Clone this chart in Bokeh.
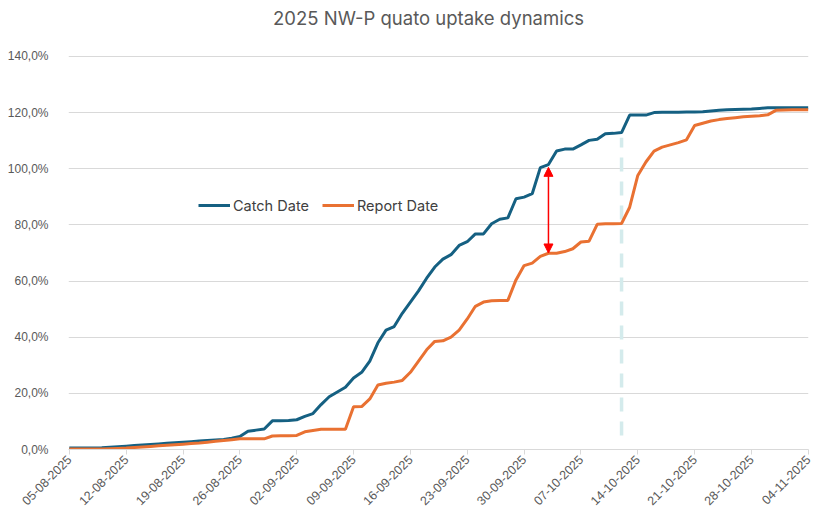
import pandas as pd
from bokeh.plotting import figure
from bokeh.models import (Range1d, FixedTicker, CustomJSTickFormatter, DatetimeTickFormatter,
                          Legend, LegendItem, Arrow, NormalHead, ColumnDataSource, Label)
from bokeh.embed import file_html
from bokeh.resources import INLINE

# ---------------- data ----------------
start_date = "2025-08-05"
end_date = "2025-11-04"
dates = pd.date_range(start_date, end_date, freq="D")
tick_dates = pd.date_range(start_date, end_date, freq="7D")

catch_date = [
    0.5, 0.5, 0.5, 0.5, 0.6, 0.8, 1.0, 1.2, 1.4, 1.6,
    1.8, 2.0, 2.2, 2.4, 2.6, 2.8, 3.0, 3.2, 3.4, 3.6,
    4.0, 4.6, 6.5, 6.9, 7.3, 10.2, 10.2, 10.3, 10.6, 11.8,
    12.8, 16.0, 18.8, 20.5, 22.2, 25.5, 27.5, 31.5, 38.0, 42.5,
    43.8, 48.5, 52.5, 56.5, 61.0, 65.0, 67.8, 69.4, 72.7, 74.0,
    76.8, 76.8, 80.4, 82.0, 82.5, 89.3, 89.9, 91.1, 100.4, 101.5,
    106.3, 107.0, 107.0, 108.5, 110.1, 110.5, 112.5, 112.6, 112.9, 119.1,
    119.1, 119.1, 120.0, 120.1, 120.1, 120.1, 120.2, 120.2, 120.3, 120.6,
    120.8, 121.0, 121.1, 121.2, 121.3, 121.5, 121.7, 121.7, 121.7, 121.7,
    121.7, 121.7,
]
report_date = [
    0.2, 0.2, 0.2, 0.2, 0.2, 0.3, 0.4, 0.5, 0.7, 0.9,
    1.1, 1.3, 1.5, 1.7, 1.9, 2.1, 2.3, 2.6, 2.9, 3.2,
    3.5, 3.8, 3.8, 3.8, 3.8, 4.8, 4.9, 4.9, 5.0, 6.3,
    6.8, 7.2, 7.2, 7.2, 7.2, 15.2, 15.3, 18.0, 23.0, 23.6,
    24.0, 24.6, 27.5, 31.5, 35.5, 38.5, 38.7, 40.0, 42.5, 46.5,
    51.0, 52.5, 53.0, 53.1, 53.1, 60.4, 65.5, 66.4, 68.8, 69.9,
    69.9, 70.5, 71.5, 73.9, 74.2, 80.2, 80.4, 80.4, 80.5, 86.3,
    97.6, 102.4, 106.3, 107.7, 108.5, 109.3, 110.3, 115.4, 116.2, 117.0,
    117.5, 117.9, 118.2, 118.5, 118.7, 118.9, 119.2, 120.8, 120.9, 121.0,
    121.0, 121.0,
]
y_ticks = [0, 20, 40, 60, 80, 100, 120, 140]

marker_date = "2025-10-12"
marker_range = [5.0, 111.0]
gap_date = "2025-10-03"
gap_range = [70.0, 100.5]

title_text = "2025 NW-P quato uptake dynamics"
series_names = ["Catch Date", "Report Date"]

# ---------------- figure ----------------
FONT = "Inter"
TICK_FONT = "Liberation Sans"
day = pd.Timedelta(days=1)
x0 = dates[0] - 0.1 * day
x1 = dates[-1] + 0.02 * day
# headroom above the 140 % gridline holds the title
p = figure(width=819, height=515, x_axis_type="datetime",
           output_backend="svg", toolbar_location=None,
           x_range=Range1d(x0, x1), y_range=Range1d(0, 158.5),
           min_border_left=68, min_border_right=11,
           min_border_top=4, min_border_bottom=66)
p.outline_line_color = None
p.background_fill_color = "white"

p.add_layout(Label(x=x0 + (x1 - x0) / 2, y=140, x_offset=-10, y_offset=38,
                   text=title_text, text_align="center", text_baseline="middle",
                   text_font=FONT, text_font_size="18.5px", text_color="#595959"))

src = ColumnDataSource(dict(x=dates, catch=catch_date, report=report_date))

# dashed marker line
p.segment(x0=[pd.Timestamp(marker_date)], x1=[pd.Timestamp(marker_date)],
          y0=[marker_range[0]], y1=[marker_range[1]],
          line_color="#D4EBEC", line_width=3.5, line_dash="14 10")

r_catch = p.line("x", "catch", source=src, line_color="#156082", line_width=3)
r_report = p.line("x", "report", source=src, line_color="#E97132", line_width=3)

# double arrow
head = dict(size=9, fill_color="#FF0000", line_color="#FF0000")
p.add_layout(Arrow(start=NormalHead(**head), end=NormalHead(**head),
                   x_start=pd.Timestamp(gap_date), x_end=pd.Timestamp(gap_date),
                   y_start=gap_range[0], y_end=gap_range[1],
                   line_color="#FF0000", line_width=1.5))

# axes
p.yaxis.ticker = FixedTicker(ticks=y_ticks)
p.yaxis.formatter = CustomJSTickFormatter(code="return tick.toFixed(1).replace('.', ',') + '%';")
p.yaxis.axis_line_color = None
p.yaxis.major_tick_line_color = None
p.yaxis.minor_tick_line_color = None
p.yaxis.major_label_text_font = TICK_FONT
p.yaxis.major_label_text_font_size = "12px"
p.yaxis.major_label_text_color = "#595959"
p.yaxis.major_label_standoff = 14

p.xaxis.ticker = FixedTicker(ticks=[t.value // 10**6 for t in tick_dates])
p.xaxis.formatter = DatetimeTickFormatter(days="%d-%m-%Y", months="%d-%m-%Y", years="%d-%m-%Y")
p.xaxis.major_label_orientation = 0.785398
p.xaxis.axis_line_color = "#D9D9D9"
p.xaxis.major_tick_line_color = "#D9D9D9"
p.xaxis.major_tick_out = 5
p.xaxis.major_tick_in = 0
p.xaxis.minor_tick_line_color = None
p.xaxis.major_label_text_font = TICK_FONT
p.xaxis.major_label_text_font_size = "12.5px"
p.xaxis.major_label_text_color = "#595959"
p.xaxis.major_label_standoff = 3

p.xgrid.grid_line_color = None
p.ygrid.grid_line_color = "#D9D9D9"
p.ygrid.grid_line_width = 1

legend = Legend(items=[LegendItem(label=series_names[0], renderers=[r_catch]),
                       LegendItem(label=series_names[1], renderers=[r_report])],
                orientation="horizontal", location=(130, 234),
                background_fill_alpha=0, border_line_color=None,
                padding=0, spacing=13, label_standoff=3,
                glyph_width=32, glyph_height=20,
                label_text_font=FONT, label_text_font_size="14.5px",
                label_text_color="#404040")
p.add_layout(legend, "center")

open("out.html", "w").write(file_html(p, INLINE))
